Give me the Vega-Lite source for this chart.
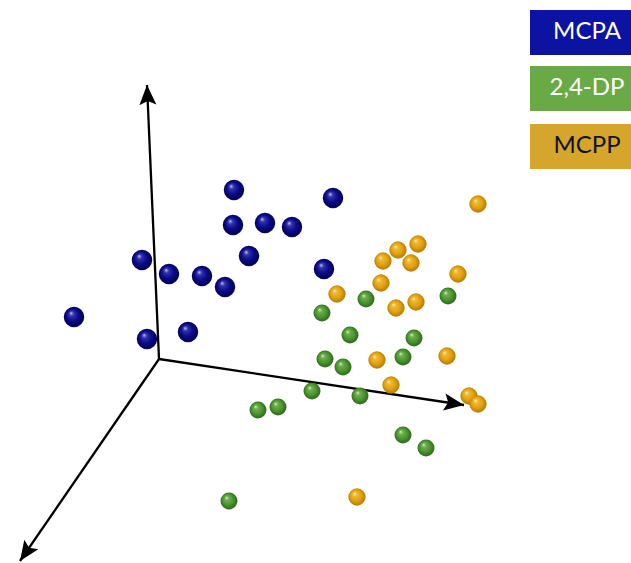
{
  "$schema": "https://vega.github.io/schema/vega-lite/v6.json",
  "width": 631,
  "height": 563,
  "autosize": {"type": "none"},
  "padding": 0,
  "background": "white",
  "config": {"view": {"stroke": null}},
  "datasets": {
    "points": [
      {"series": "MCPA", "x": 234, "y": 190},
      {"series": "MCPA", "x": 333, "y": 198},
      {"series": "MCPA", "x": 233, "y": 225},
      {"series": "MCPA", "x": 265, "y": 223},
      {"series": "MCPA", "x": 292, "y": 227},
      {"series": "MCPA", "x": 249, "y": 256},
      {"series": "MCPA", "x": 142, "y": 260},
      {"series": "MCPA", "x": 169, "y": 274},
      {"series": "MCPA", "x": 202, "y": 276},
      {"series": "MCPA", "x": 225, "y": 287},
      {"series": "MCPA", "x": 324, "y": 269},
      {"series": "MCPA", "x": 74, "y": 317},
      {"series": "MCPA", "x": 147, "y": 339},
      {"series": "MCPA", "x": 188, "y": 332},
      {"series": "2,4-DP", "x": 366, "y": 299},
      {"series": "2,4-DP", "x": 322, "y": 313},
      {"series": "2,4-DP", "x": 448, "y": 296},
      {"series": "2,4-DP", "x": 350, "y": 335},
      {"series": "2,4-DP", "x": 414, "y": 338},
      {"series": "2,4-DP", "x": 325, "y": 359},
      {"series": "2,4-DP", "x": 343, "y": 367},
      {"series": "2,4-DP", "x": 403, "y": 357},
      {"series": "2,4-DP", "x": 312, "y": 391},
      {"series": "2,4-DP", "x": 360, "y": 396},
      {"series": "2,4-DP", "x": 258, "y": 410},
      {"series": "2,4-DP", "x": 278, "y": 407},
      {"series": "2,4-DP", "x": 403, "y": 435},
      {"series": "2,4-DP", "x": 426, "y": 448},
      {"series": "2,4-DP", "x": 229, "y": 501},
      {"series": "MCPP", "x": 478, "y": 204},
      {"series": "MCPP", "x": 418, "y": 244},
      {"series": "MCPP", "x": 398, "y": 250},
      {"series": "MCPP", "x": 383, "y": 261},
      {"series": "MCPP", "x": 411, "y": 263},
      {"series": "MCPP", "x": 458, "y": 274},
      {"series": "MCPP", "x": 381, "y": 283},
      {"series": "MCPP", "x": 337, "y": 294},
      {"series": "MCPP", "x": 416, "y": 302},
      {"series": "MCPP", "x": 396, "y": 308},
      {"series": "MCPP", "x": 377, "y": 360},
      {"series": "MCPP", "x": 447, "y": 356},
      {"series": "MCPP", "x": 391, "y": 385},
      {"series": "MCPP", "x": 469, "y": 396},
      {"series": "MCPP", "x": 478, "y": 404},
      {"series": "MCPP", "x": 357, "y": 497}
    ],
    "axes": [
      {"axis": "vertical", "x": 159, "y": 359, "x2": 147, "y2": 85, "angle": 357.5},
      {"axis": "right", "x": 159, "y": 359, "x2": 464, "y2": 405, "angle": 98.6},
      {"axis": "diagonal", "x": 159, "y": 359, "x2": 20, "y2": 561, "angle": 214.5}
    ],
    "legend": [
      {"label": "MCPA", "y": 10, "y2": 55, "ty": 32},
      {"label": "2,4-DP", "y": 66, "y2": 111, "ty": 88},
      {"label": "MCPP", "y": 124, "y2": 169, "ty": 146}
    ]
  },
  "layer": [
    {
      "data": {"name": "axes"},
      "mark": {"type": "rule", "color": "#000000", "strokeWidth": 2.3},
      "encoding": {
        "x": {"field": "x", "type": "quantitative", "scale": {"domain": [0, 631], "nice": false, "zero": false}, "axis": null},
        "y": {"field": "y", "type": "quantitative", "scale": {"domain": [0, 563], "nice": false, "zero": false, "reverse": true}, "axis": null},
        "x2": {"field": "x2"},
        "y2": {"field": "y2"}
      }
    },
    {
      "data": {"name": "axes"},
      "mark": {"type": "point", "filled": true, "shape": "M0,0L-0.85,2L0,1.6L0.85,2Z", "size": 400, "color": "#000000", "opacity": 1},
      "encoding": {
        "x": {"field": "x2", "type": "quantitative"},
        "y": {"field": "y2", "type": "quantitative"},
        "angle": {"field": "angle", "type": "quantitative", "scale": null}
      }
    },
    {
      "data": {"name": "points"},
      "transform": [{"filter": "datum.series == 'MCPA'"}],
      "mark": {"type": "point", "filled": true, "size": 420, "opacity": 1, "shape": "circle",
        "fill": {"gradient": "radial", "x1": 0.35, "y1": 0.3, "r1": 0, "x2": 0.5, "y2": 0.5, "r2": 0.55,
          "stops": [{"offset": 0, "color": "#d8d8f4"}, {"offset": 0.2, "color": "#3434b0"}, {"offset": 0.55, "color": "#0a0a88"}, {"offset": 0.9, "color": "#020256"}, {"offset": 1, "color": "#7070aa"}]}},
      "encoding": {
        "x": {"field": "x", "type": "quantitative"},
        "y": {"field": "y", "type": "quantitative"}
      }
    },
    {
      "data": {"name": "points"},
      "transform": [{"filter": "datum.series == '2,4-DP'"}],
      "mark": {"type": "point", "filled": true, "size": 290, "opacity": 1, "shape": "circle",
        "fill": {"gradient": "radial", "x1": 0.35, "y1": 0.3, "r1": 0, "x2": 0.5, "y2": 0.5, "r2": 0.55,
          "stops": [{"offset": 0, "color": "#e2f2d6"}, {"offset": 0.22, "color": "#6db04a"}, {"offset": 0.6, "color": "#4a9230"}, {"offset": 0.9, "color": "#2f6a1c"}, {"offset": 1, "color": "#8fbf7a"}]}},
      "encoding": {
        "x": {"field": "x", "type": "quantitative"},
        "y": {"field": "y", "type": "quantitative"}
      }
    },
    {
      "data": {"name": "points"},
      "transform": [{"filter": "datum.series == 'MCPP'"}],
      "mark": {"type": "point", "filled": true, "size": 300, "opacity": 1, "shape": "circle",
        "fill": {"gradient": "radial", "x1": 0.35, "y1": 0.3, "r1": 0, "x2": 0.5, "y2": 0.5, "r2": 0.55,
          "stops": [{"offset": 0, "color": "#fff2c8"}, {"offset": 0.22, "color": "#f0b830"}, {"offset": 0.6, "color": "#e0a010"}, {"offset": 0.9, "color": "#b57c00"}, {"offset": 1, "color": "#e8c068"}]}},
      "encoding": {
        "x": {"field": "x", "type": "quantitative"},
        "y": {"field": "y", "type": "quantitative"}
      }
    },
    {
      "data": {"name": "legend"},
      "mark": {"type": "rect", "color": "#c4c4c4", "opacity": 0.55, "xOffset": 1, "yOffset": 3},
      "encoding": {
        "x": {"datum": 530, "type": "quantitative"},
        "x2": {"datum": 631},
        "y": {"field": "y", "type": "quantitative"},
        "y2": {"field": "y2"}
      }
    },
    {
      "data": {"name": "legend"},
      "mark": {"type": "rect", "opacity": 1},
      "encoding": {
        "x": {"datum": 530, "type": "quantitative"},
        "x2": {"datum": 631},
        "y": {"field": "y", "type": "quantitative"},
        "y2": {"field": "y2"},
        "color": {"field": "label", "type": "nominal", "scale": {"domain": ["MCPA", "2,4-DP", "MCPP"], "range": ["#0c12a2", "#6aaa46", "#d6a62c"]}, "legend": null}
      }
    },
    {
      "data": {"name": "legend"},
      "mark": {"type": "text", "font": "Lato", "fontSize": 24, "align": "center", "baseline": "middle"},
      "encoding": {
        "x": {"datum": 587, "type": "quantitative"},
        "y": {"field": "ty", "type": "quantitative"},
        "text": {"field": "label"},
        "color": {"condition": {"test": "datum.label == 'MCPP'", "value": "#111111"}, "value": "#ffffff"}
      }
    }
  ]
}
